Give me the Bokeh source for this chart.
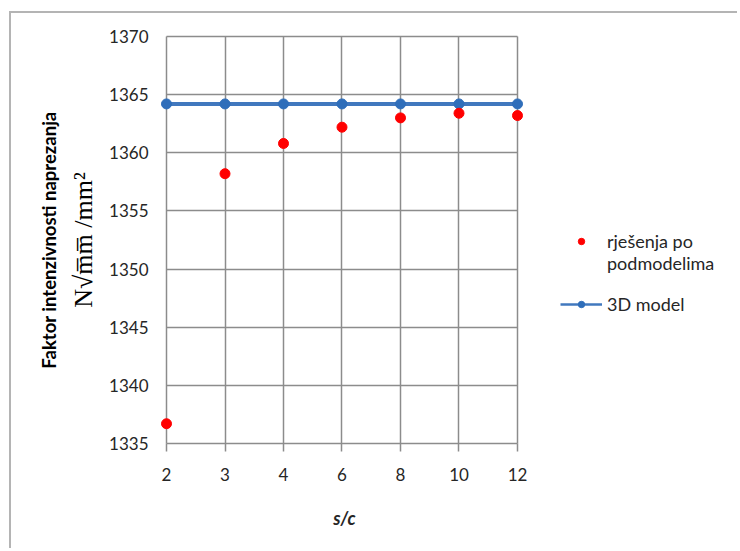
from bokeh.plotting import figure
from bokeh.models import (Range1d, FixedTicker, Legend, LegendItem, LinearAxis)
from bokeh.embed import file_html
from bokeh.resources import INLINE

categories = ["2", "3", "4", "6", "8", "10", "12"]
submodel_values = [1336.7, 1358.2, 1360.8, 1362.2, 1363.0, 1363.4, 1363.2]
model3d_values = [1364.2, 1364.2, 1364.2, 1364.2, 1364.2, 1364.2, 1364.2]
y_ticks = [1335, 1340, 1345, 1350, 1355, 1360, 1365, 1370]

xs = list(range(len(categories)))

FONT = "Lato"
TXT = "#262626"
GRID = "#8c8c8c"
BLUE = "#4178be"
BLUE_MK = "#2f6eba"
RED = "#ff0000"

p = figure(width=728, height=537, output_backend="svg", toolbar_location=None,
           x_range=Range1d(-0.1026, 9.795), y_range=Range1d(1334.83, 1370.17),
           min_border_left=149, min_border_top=21, min_border_right=0,
           min_border_bottom=105)
p.styles = {"margin-left": "9px", "margin-top": "11px",
            "border-top": "2px solid #b4b4b4", "border-left": "2px solid #b4b4b4"}
p.outline_line_color = None
p.background_fill_color = "white"
p.border_fill_color = "white"

p.xaxis.ticker = FixedTicker(ticks=xs)
p.xaxis.bounds = (0, len(categories) - 1)
p.xaxis.major_label_overrides = {i: c for i, c in enumerate(categories)}
p.yaxis.ticker = FixedTicker(ticks=y_ticks)
p.xgrid.ticker = FixedTicker(ticks=xs)
p.ygrid.ticker = FixedTicker(ticks=y_ticks)
p.xgrid.cross_bounds = (1335, 1370)
p.ygrid.cross_bounds = (0, 6)
for g in (p.xgrid, p.ygrid):
    g.grid_line_color = GRID
    g.grid_line_width = 1.5

for ax in (p.xaxis, p.yaxis):
    ax.axis_line_color = None
    ax.minor_tick_line_color = None
    ax.major_label_text_font = FONT
    ax.major_label_text_font_size = "17px"
    ax.major_label_text_color = TXT

p.yaxis.major_tick_line_color = None
p.yaxis.major_tick_out = 0
p.yaxis.major_tick_in = 0
p.yaxis.major_label_standoff = 12
p.yaxis.axis_label = "N√m̅m̅ /mm²"
p.yaxis.axis_label_text_font = "Liberation Serif"
p.yaxis.axis_label_text_font_style = "normal"
p.yaxis.axis_label_text_font_size = "26px"
p.yaxis.axis_label_text_color = "black"
p.yaxis.axis_label_standoff = 8

title_axis = LinearAxis(axis_label="Faktor intenzivnosti naprezanja",
                        axis_label_text_font=FONT,
                        axis_label_text_font_style="bold",
                        axis_label_text_font_size="18.5px",
                        axis_label_text_color="black",
                        axis_label_standoff=7,
                        axis_line_color=None, major_tick_line_color=None,
                        minor_tick_line_color=None, major_tick_out=0,
                        major_tick_in=0, minor_tick_out=0,
                        major_label_text_font_size="0px",
                        major_label_standoff=0,
                        ticker=FixedTicker(ticks=[]))
p.add_layout(title_axis, "left")

p.xaxis.major_tick_line_color = GRID
p.xaxis.major_tick_line_width = 1.5
p.xaxis.major_tick_out = 6
p.xaxis.major_tick_in = 2
p.xaxis.major_label_standoff = 16
# the frame is wider than the categories (legend lives inside it), so the
# label is padded with em spaces to sit centred under the plotted area
p.xaxis.axis_label = "s/c" + "\u2003" * 17
p.xaxis.axis_label_text_font = FONT
p.xaxis.axis_label_text_font_style = "bold italic"
p.xaxis.axis_label_text_font_size = "18px"
p.xaxis.axis_label_text_color = TXT
p.xaxis.axis_label_standoff = 23

# thinner copy under the main line, used only as the legend swatch
legend_line = p.line(xs, model3d_values, line_color=BLUE, line_width=2.5)
r_line = p.line(xs, model3d_values, line_color=BLUE, line_width=4)
r_pts3d = p.scatter(xs, model3d_values, size=10, fill_color=BLUE_MK,
                    line_color=BLUE_MK)
r_sub = p.scatter(xs, submodel_values, size=10, fill_color=RED,
                  line_color=RED)
proxy_blank = p.scatter([], [], fill_alpha=0, line_alpha=0)

legend_style = dict(padding=0, margin=0, glyph_width=42, glyph_height=16,
                    label_height=21, label_standoff=5, border_line_color=None,
                    background_fill_alpha=0, label_text_font=FONT,
                    label_text_font_size="18px", label_text_color=TXT)

legend_a = Legend(items=[
    LegendItem(label="rješenja po", renderers=[r_sub]),
    LegendItem(label="podmodelima", renderers=[proxy_blank]),
], location=(400, 171), spacing=0, **legend_style)
legend_b = Legend(items=[
    LegendItem(label="3D model", renderers=[legend_line, r_pts3d]),
], location=(400, 130), spacing=0, **legend_style)
p.add_layout(legend_a)
p.add_layout(legend_b)

open("out.html", "w").write(file_html(p, INLINE))
